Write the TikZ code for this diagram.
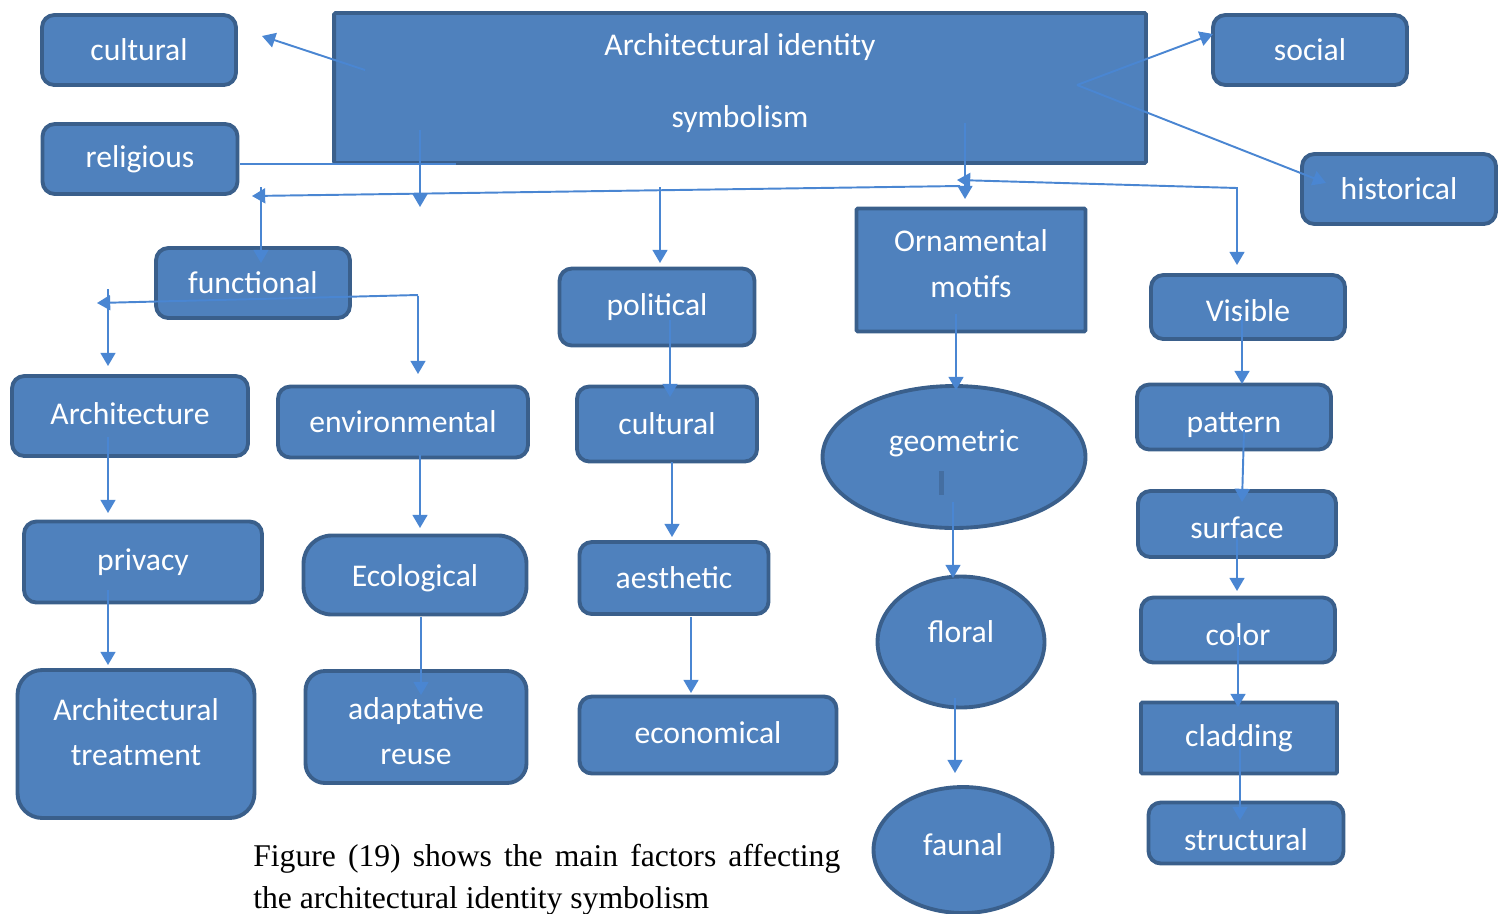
\documentclass[tikz,border=0pt]{standalone}
\usepackage{fontspec}
\setmainfont{Carlito}
\newfontfamily\capfont{Liberation Serif}
\usetikzlibrary{arrows.meta,shapes.geometric}
\definecolor{boxfill}{HTML}{4F81BD}
\definecolor{boxline}{HTML}{3A5F8B}
\definecolor{arrline}{HTML}{4A86D2}
\begin{document}
\begin{tikzpicture}[x=0.02cm,y=-0.02cm,
    box/.style={draw=boxline,fill=boxfill,line width=2.2pt,rounded corners=7pt,text=white,
      font=\fontsize{18}{22}\selectfont,align=center,inner sep=0pt},
    sq/.style={box,rounded corners=0.8pt},
    oval/.style={box,ellipse,text height=13pt},
    sinktext/.style={text height=#1},
    lifttext/.style={text depth=#1},
    link/.style={draw=arrline,line width=1.1pt},
    arr/.style={link,-{Triangle[width=8.5pt,length=7.5pt]}},
    arrtwo/.style={link,{Triangle[width=8.5pt,length=7.5pt]}-{Triangle[width=8.5pt,length=7.5pt]}}]
  \useasboundingbox (0,0) rectangle (1506,913);

  % top row
  \node[sq,lifttext=8pt,minimum width=16.24cm,minimum height=3cm] (main) at (740,88) {Architectural identity\\[19pt]symbolism};
  \node[box,minimum width=3.88cm,minimum height=1.4cm] (cul1) at (139,50) {cultural};
  \node[box,minimum width=3.9cm,minimum height=1.4cm] (rel) at (140,159) {religious};
  \node[box,minimum width=3.88cm,minimum height=1.4cm] (soc) at (1310,50) {social};
  \node[box,minimum width=3.88cm,minimum height=1.4cm] (hist) at (1399,189) {historical};

  % second row
  \node[box,minimum width=3.88cm,minimum height=1.4cm] (func) at (253,283) {functional};
  \node[box,minimum width=3.9cm,minimum height=1.54cm] (pol) at (657,307) {political};
  \node[sq,lifttext=7.4pt,minimum width=4.58cm,minimum height=2.46cm] (orn) at (971,270) {Ornamental\\[4pt]motifs};
  \node[box,sinktext=16.5pt,minimum width=3.88cm,minimum height=1.28cm] (vis) at (1248,307) {Visible};

  % columns
  \node[box,lifttext=3.4pt,minimum width=4.72cm,minimum height=1.6cm] (arch) at (130,416) {Architecture};
  \node[box,minimum width=4.76cm,minimum height=1.62cm] (priv) at (143,562) {privacy};
  \node[box,rounded corners=14pt,lifttext=13.6pt,minimum width=4.74cm,minimum height=2.96cm] (trt) at (136,744) {Architectural\\[3.5pt]treatment};

  \node[box,minimum width=5cm,minimum height=1.42cm] (env) at (403,422) {environmental};
  \node[box,rounded corners=16pt,sinktext=16.5pt,minimum width=4.46cm,minimum height=1.58cm] (eco) at (415,575) {Ecological};
  \node[box,rounded corners=11pt,sinktext=43pt,minimum width=4.42cm,minimum height=2.24cm] (adp) at (416,727) {adaptative\\[3.5pt]reuse};

  \node[box,minimum width=3.6cm,minimum height=1.5cm] (cul2) at (667,424) {cultural};
  \node[box,minimum width=3.78cm,minimum height=1.44cm] (aes) at (674,578) {aesthetic};
  \node[box,lifttext=2.3pt,minimum width=5.14cm,minimum height=1.54cm] (econ) at (708,735) {economical};

  \node[oval,lifttext=19.7pt,minimum width=5.26cm,minimum height=2.84cm] (geo) at (954,457) {geometric};
  \node[oval,lifttext=12.7pt,minimum width=3.34cm,minimum height=2.62cm] (flo) at (961,642) {floral};
  \node[oval,lifttext=6.6pt,minimum width=3.58cm,minimum height=2.52cm] (fau) at (963,850) {faunal};
  \fill[boxline!55!boxfill] ([shift={(-15,14)}]geo.center) rectangle ++(5,24);

  \node[box,sinktext=20pt,minimum width=3.88cm,minimum height=1.3cm] (pat) at (1234,417) {pattern};
  \node[box,sinktext=16.5pt,minimum width=3.96cm,minimum height=1.32cm] (surf) at (1237,524) {surface};
  \node[box,sinktext=17.5pt,minimum width=3.88cm,minimum height=1.3cm] (colr) at (1238,630) {color};
  \node[sq,minimum width=3.92cm,minimum height=1.42cm] (clad) at (1239,738) {cladding};
  \node[box,sinktext=20pt,minimum width=3.9cm,minimum height=1.22cm] (str) at (1246,833) {structural};

  \node[anchor=north west,inner sep=0pt,text width=11.74cm,align=justify,
    font=\capfont\fontsize{18}{23.8}\selectfont] (cap) at (253,844)
    {Figure (19) shows the main factors affecting the architectural identity symbolism};

  % free ends of the connectors
  \coordinate (barL) at (252,196);
  \coordinate (barR) at (960,186);
  \coordinate (drop) at (420,207);
  \coordinate (fTop) at (261,187);
  \coordinate (pTop) at (660,187);
  \coordinate (ornHub) at (957,180);
  \coordinate (visBend) at (1237,188);
  \coordinate (fLeft) at (97,303);
  \coordinate (aTop) at (108,289);
  \coordinate (fork) at ([shift={(337,-3)}]main.center);

  % from the title box
  \draw[arr] ([shift={(-375,-18)}]main.center) -- ([shift={(123,-14)}]cul1.center);
  \draw[link] ([shift={(100,5)}]rel.center) -- ([shift={(-284,76)}]main.center);
  \draw[arr] (fork) -- ([shift={(-97,-16)}]soc.center);
  \draw[arr] (fork) -- ([shift={(-73,-6)}]hist.center);
  \draw[arr] ([shift={(-320,42)}]main.center) -- (drop);
  \draw[arr] ([shift={(225,35)}]main.center) -- ([shift={(-6,-71)}]orn.center);

  % the bar under the title
  \draw[arr] (barR) -- (barL);
  \draw[arr] (fTop) -- ([shift={(8,-20)}]func.center);
  \draw[arr] (pTop) -- ([shift={(3,-44)}]pol.center);
  \draw[arrtwo] (ornHub) -- (visBend) -- ([shift={(-11,-42)}]vis.center);

  % functional branches
  \draw[arr] ([shift={(165,12)}]func.center) -- (fLeft);
  \draw[arr] ([shift={(165,13)}]func.center) -- ([shift={(15,-48)}]env.center);
  \draw[arr] (aTop) -- ([shift={(-22,-50)}]arch.center);

  % down the columns
  \draw[arr] ([shift={(-22,21)}]arch.center) -- ([shift={(-35,-49)}]priv.center);
  \draw[arr] ([shift={(-35,28)}]priv.center) -- ([shift={(-28,-79)}]trt.center);
  \draw[arr] ([shift={(17,33)}]env.center) -- ([shift={(5,-47)}]eco.center);
  \draw[arr] ([shift={(6,42)}]eco.center) -- ([shift={(5,-32)}]adp.center);
  \draw[arr] ([shift={(13,13)}]pol.center) -- ([shift={(3,-27)}]cul2.center);
  \draw[arr] ([shift={(5,38)}]cul2.center) -- ([shift={(-2,-41)}]aes.center);
  \draw[arr] ([shift={(17,39)}]aes.center) -- ([shift={(-17,-42)}]econ.center);
  \draw[arr] ([shift={(-15,44)}]orn.center) -- ([shift={(2,-67)}]geo.center);
  \draw[arr] ([shift={(-1,45)}]geo.center) -- ([shift={(-8,-64)}]flo.center);
  \draw[arr] ([shift={(-6,56)}]flo.center) -- ([shift={(-8,-77)}]fau.center);
  \draw[arr] ([shift={(-6,9)}]vis.center) -- ([shift={(8,-33)}]pat.center);
  \draw[arr] ([shift={(10,13)}]pat.center) -- ([shift={(5,-22)}]surf.center);
  \draw[arr] ([shift={(0,13)}]surf.center) -- ([shift={(-1,-39)}]colr.center);
  \draw[arr] ([shift={(0,7)}]colr.center) -- ([shift={(-1,-31)}]clad.center);
  \draw[arr] ([shift={(1,2)}]clad.center) -- ([shift={(-6,-13)}]str.center);
\end{tikzpicture}
\end{document}
